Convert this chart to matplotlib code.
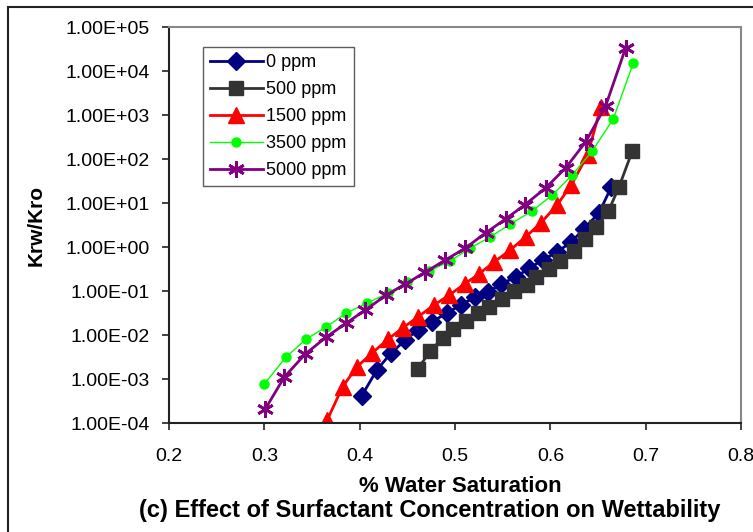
import matplotlib
matplotlib.use("Agg")
import matplotlib.pyplot as plt
from matplotlib.patches import Rectangle
from matplotlib.ticker import FixedLocator, FuncFormatter

plt.rcParams['font.family'] = ['Liberation Sans', 'DejaVu Sans']

# water saturation / Krw/Kro
sw_0 = [0.402, 0.418, 0.433, 0.448, 0.461, 0.476, 0.492, 0.506, 0.521, 0.535,
        0.548, 0.564, 0.578, 0.592, 0.607, 0.622, 0.635, 0.651, 0.664]
k_0 = [4.1e-4, 1.6e-3, 3.9e-3, 7.7e-3, 0.013, 0.020, 0.032, 0.048, 0.073, 0.095,
       0.144, 0.208, 0.333, 0.507, 0.769, 1.30, 2.56, 5.93, 23.1]

sw_500 = [0.461, 0.474, 0.487, 0.498, 0.512, 0.524, 0.536, 0.549, 0.562, 0.575,
          0.585, 0.599, 0.610, 0.625, 0.636, 0.648, 0.661, 0.672, 0.686]
k_500 = [1.7e-3, 4.3e-3, 8.6e-3, 0.0137, 0.0208, 0.0316, 0.0433, 0.0658, 0.10, 0.137,
         0.208, 0.316, 0.481, 0.81, 1.52, 2.85, 6.58, 23.1, 152]

sw_1500 = [0.366, 0.382, 0.397, 0.413, 0.430, 0.445, 0.461, 0.478, 0.494, 0.510,
           0.525, 0.541, 0.558, 0.574, 0.590, 0.607, 0.622, 0.639, 0.653]
k_1500 = [1.17e-4, 6.6e-4, 1.87e-3, 3.9e-3, 8.1e-3, 0.0144, 0.0256, 0.048, 0.081, 0.144,
          0.243, 0.456, 0.855, 1.69, 3.51, 9.0, 25.6, 123, 1520]

sw_3500 = [0.300, 0.323, 0.344, 0.365, 0.386, 0.408, 0.430, 0.450, 0.473, 0.495,
           0.516, 0.537, 0.558, 0.581, 0.602, 0.623, 0.644, 0.666, 0.687]
k_3500 = [7.7e-4, 3.2e-3, 8.1e-3, 0.0152, 0.0316, 0.0533, 0.090, 0.160, 0.285, 0.481,
          0.95, 1.69, 3.33, 6.58, 15.2, 43.3, 152, 811, 15200]

sw_5000 = [0.301, 0.321, 0.343, 0.365, 0.386, 0.406, 0.428, 0.448, 0.469, 0.490,
           0.511, 0.532, 0.553, 0.573, 0.595, 0.616, 0.637, 0.658, 0.679]
k_5000 = [2.08e-4, 1.11e-3, 3.7e-3, 9.0e-3, 0.0187, 0.037, 0.081, 0.144, 0.270, 0.507,
          0.95, 2.08, 4.33, 9.0, 21.9, 62.4, 243, 1600, 33400]

x_ticks = [0.2, 0.3, 0.4, 0.5, 0.6, 0.7, 0.8]
y_ticks = [1e-4, 1e-3, 1e-2, 1e-1, 1e0, 1e1, 1e2, 1e3, 1e4, 1e5]

W, H = 753, 532
fig = plt.figure(figsize=(W / 100, H / 100), dpi=100)
fig.patch.set_facecolor('white')
# outer chart border
fig.patches.append(Rectangle((8 / W, -0.05), 1.2, 1 - 7 / H + 0.05, transform=fig.transFigure,
                             fill=False, edgecolor='#222222', linewidth=1.5))

ax = fig.add_axes([169 / W, 1 - 423 / H, (741 - 169) / W, (423 - 27) / H])

ax.plot(sw_0, k_0, color='#000080', lw=2, marker='D', ms=9, label='0 ppm')
ax.plot(sw_500, k_500, color='#333333', lw=2, marker='s', ms=10, label='500 ppm')
ax.plot(sw_1500, k_1500, color='#ff0000', lw=2, marker='^', ms=12, label='1500 ppm')
ax.plot(sw_3500, k_3500, color='#00ff00', lw=1, marker='o', ms=6.5, label='3500 ppm')
ax.plot(sw_5000, k_5000, color='#800080', lw=2, marker=(6, 2, 0), ms=12, mew=2,
        label='5000 ppm')

ax.set_yscale('log')
ax.set_xlim(0.2, 0.8)
ax.set_ylim(1e-4, 1e5)
ax.xaxis.set_major_locator(FixedLocator(x_ticks))
ax.yaxis.set_major_locator(FixedLocator(y_ticks))
ax.yaxis.set_minor_locator(FixedLocator([]))
ax.xaxis.set_major_formatter(FuncFormatter(lambda v, p: f'{v:g}'))
ax.yaxis.set_major_formatter(FuncFormatter(lambda v, p: f'{v:.2E}'))
ax.tick_params(axis='both', direction='out', length=5, width=1.2, colors='#222222',
               labelsize=14, labelcolor='black', pad=9)
ax.tick_params(axis='x', pad=13)

for side in ['left', 'bottom']:
    ax.spines[side].set_color('#222222')
    ax.spines[side].set_linewidth(1.5)
for side in ['top', 'right']:
    ax.spines[side].set_color('#888888')
    ax.spines[side].set_linewidth(1.5)

fig.text(460 / W, 1 - 487 / H, '% Water Saturation', ha='center', va='center',
         fontsize=16, fontweight='bold')
fig.text(430 / W, 1 - 511 / H, '(c) Effect of Surfactant Concentration on Wettability',
         ha='center', va='center', fontsize=17, fontweight='bold')
fig.text(36 / W, 1 - 225 / H, 'Krw/Kro', ha='center', va='center', rotation=90,
         fontsize=15, fontweight='bold')

leg = ax.legend(loc='upper left', bbox_to_anchor=((203 - 169) / 572, (423 - 47) / 396),
                borderaxespad=0, fontsize=13, frameon=True, fancybox=False,
                handlelength=2.9, labelspacing=0.55, handletextpad=0.2,
                borderpad=0.4)
leg.get_frame().set_edgecolor('#333333')
leg.get_frame().set_linewidth(1)

fig.savefig('out.png', dpi=100)
